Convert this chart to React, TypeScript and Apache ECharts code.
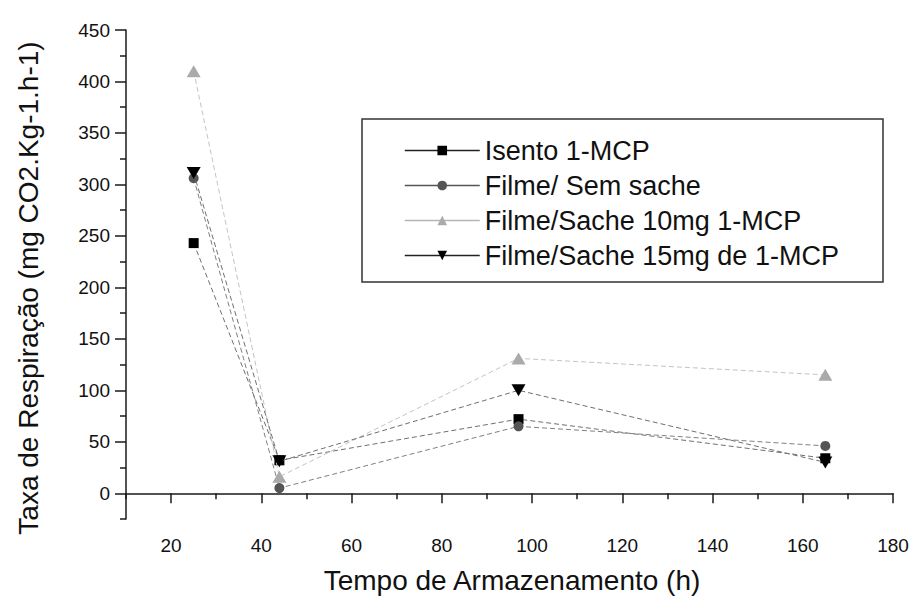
import React, { useEffect, useRef } from "react";
import * as echarts from "echarts";

// ---- data ----
const hours = [25, 44, 97, 165];
const isento = [243, 32, 72, 34];
const semSache = [306, 5, 65, 46];
const sache10 = [410, 16, 131, 115];
const sache15 = [311, 31, 100, 30];
const seriesNames = [
  "Isento 1-MCP",
  "Filme/ Sem sache",
  "Filme/Sache 10mg 1-MCP",
  "Filme/Sache 15mg de 1-MCP",
];
const xMajorTicks = [20, 40, 60, 80, 100, 120, 140, 160, 180];
const xMinorTicks = [10, 30, 50, 70, 90, 110, 130, 150, 170];
const yMajorTicks = [0, 50, 100, 150, 200, 250, 300, 350, 400, 450];
const yMinorTicks = [-25, 25, 75, 125, 175, 225, 275, 325, 375, 425];
const xTitle = "Tempo de Armazenamento (h)";
const yTitle = "Taxa de Respiração (mg CO2.Kg-1.h-1)";

const FONT = "'Liberation Sans', Arial, sans-serif";
const AXIS_COLOR = "#1a1a1a";

const pair = (ys: number[]) => hours.map((h, i) => [h, ys[i]]);

const seriesDefs = [
  { values: isento, symbol: "rect", size: 10, rotate: 0, color: "#000000", line: "#707070", legendLine: "#222222" },
  { values: semSache, symbol: "circle", size: 10, rotate: 0, color: "#555555", line: "#808080", legendLine: "#555555" },
  { values: sache10, symbol: "triangle", size: [14, 12], rotate: 0, color: "#aaaaaa", line: "#c4c4c4", legendLine: "#b5b5b5" },
  { values: sache15, symbol: "triangle", size: [14, 12], rotate: 180, color: "#000000", line: "#707070", legendLine: "#222222" },
];

export default function App() {
  const ref = useRef<HTMLDivElement>(null);
  useEffect(() => {
    const chart = echarts.init(ref.current!, null, { renderer: "svg" });
    const axisCommon = {
      type: "value" as const,
      splitLine: { show: false },
    };
    chart.setOption({
      animation: false,
      backgroundColor: "#ffffff",
      grid: { left: 126, right: 19, top: 30, bottom: 79 },
      xAxis: [
        {
          ...axisCommon,
          min: 10,
          max: 180,
          position: "bottom",
          axisLine: { show: true, lineStyle: { color: AXIS_COLOR, width: 1.5 } },
          axisTick: { show: true, customValues: xMajorTicks, length: 10, lineStyle: { color: AXIS_COLOR, width: 1.5 } },
          axisLabel: { show: true, customValues: xMajorTicks, margin: 17, fontSize: 19, color: "#111", fontFamily: FONT },
        },
        {
          ...axisCommon,
          min: 10,
          max: 180,
          position: "bottom",
          axisLine: { show: false },
          axisTick: { show: true, customValues: xMinorTicks, length: 6, lineStyle: { color: AXIS_COLOR, width: 1.5 } },
          axisLabel: { show: false },
        },
      ],
      yAxis: [
        {
          ...axisCommon,
          min: -25,
          max: 450,
          position: "left",
          axisLine: { show: true, lineStyle: { color: AXIS_COLOR, width: 1.5 } },
          axisTick: { show: true, customValues: yMajorTicks, length: 11, lineStyle: { color: AXIS_COLOR, width: 1.5 } },
          axisLabel: { show: true, customValues: yMajorTicks, margin: 16, fontSize: 19, color: "#111", fontFamily: FONT },
        },
        {
          ...axisCommon,
          min: -25,
          max: 450,
          position: "left",
          axisLine: { show: false },
          axisTick: { show: true, customValues: yMinorTicks, length: 6, lineStyle: { color: AXIS_COLOR, width: 1.5 } },
          axisLabel: { show: false },
        },
      ],
      legend: {
        orient: "vertical",
        left: 404,
        top: 137,
        padding: 0,
        itemWidth: 75,
        itemHeight: 12,
        itemGap: 8,
        selectedMode: false,
        textStyle: { fontSize: 27, lineHeight: 27, color: "#111", fontFamily: FONT },
        data: seriesNames.map((name, i) => ({
          name,
          lineStyle: { color: seriesDefs[i].legendLine, type: "solid", width: 1.5 },
        })),
      },
      graphic: [
        {
          type: "rect",
          z: 1,
          shape: { x: 362, y: 119, width: 521, height: 163 },
          style: { fill: "transparent", stroke: "#333", lineWidth: 1.5 },
        },
        {
          type: "text",
          x: 512,
          y: 580,
          style: { text: xTitle, fontSize: 28, fill: "#111", font: `28px ${FONT}`, align: "center", verticalAlign: "middle" },
        },
        {
          type: "text",
          x: 28,
          y: 288,
          rotation: Math.PI / 2,
          style: { text: yTitle, fontSize: 28, fill: "#111", font: `28px ${FONT}`, align: "center", verticalAlign: "middle" },
        },
      ],
      series: seriesDefs.map((d, i) => ({
        type: "line",
        name: seriesNames[i],
        xAxisIndex: 0,
        yAxisIndex: 0,
        data: pair(d.values),
        symbol: d.symbol,
        symbolSize: d.size,
        symbolRotate: d.rotate,
        showSymbol: true,
        itemStyle: { color: d.color },
        lineStyle: { color: d.line, width: 1, type: [5, 3] },
        z: 2 + i,
      })),
    });
    return () => chart.dispose();
  }, []);
  return (
    <div
      ref={ref}
      style={{ position: "absolute", left: 0, top: 0, width: 912, height: 598, background: "#fff" }}
    />
  );
}
